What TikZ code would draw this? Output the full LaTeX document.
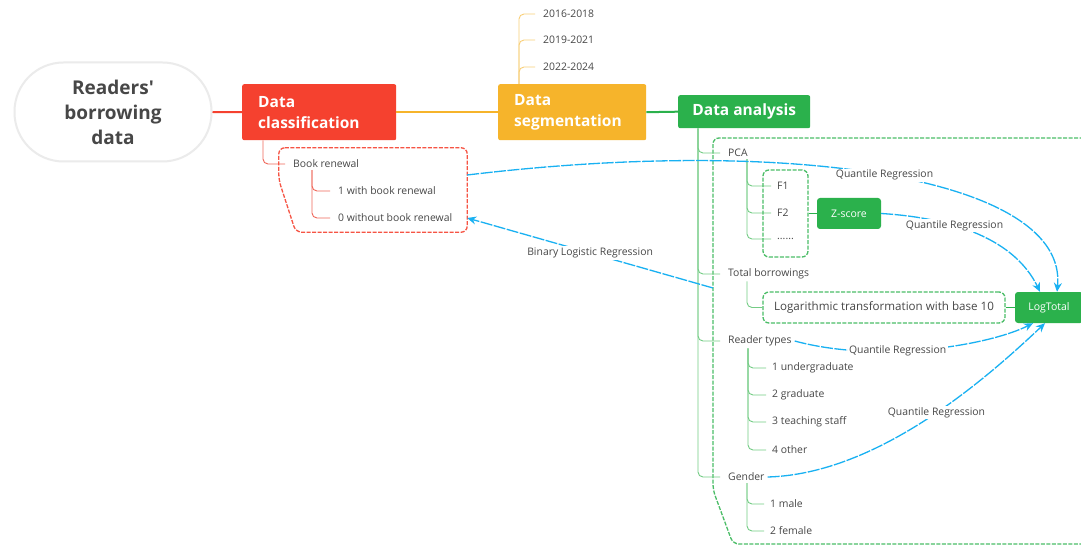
\documentclass[tikz,border=0pt]{standalone}
\usepackage{fontspec}
\setmainfont{Open Sans}[Ligatures=TeXOff]
\usetikzlibrary{arrows.meta}
\definecolor{cred}{HTML}{F5412F}
\definecolor{corange}{HTML}{F6B42B}
\definecolor{cgreen}{HTML}{2BB14C}
\definecolor{lgreen}{HTML}{74CC85}
\definecolor{lorange}{HTML}{F9CF78}
\definecolor{lred}{HTML}{F0675A}
\definecolor{cblue}{HTML}{19B1F2}
\definecolor{ctext}{HTML}{474747}
\tikzset{
  small/.style={anchor=west, inner sep=3pt, text=ctext, font=\fontsize{10.4}{12}\selectfont},
  mainbox/.style={rectangle, rounded corners=2pt, text=white, font=\bfseries\fontsize{15.5}{21}\selectfont, align=left, inner sep=0pt},
  gbox/.style={rectangle, rounded corners=3pt, fill=cgreen, text=white, inner sep=0pt, font=\fontsize{10.5}{12}\selectfont},
  gdash/.style={draw=cgreen!85, dashed, dash pattern=on 4pt off 1.5pt, line width=1.3pt, rounded corners=6pt},
  rdash/.style={draw=cred!90, dash pattern=on 4pt off 1.5pt, line width=1.3pt, rounded corners=6pt},
  gline/.style={draw=lgreen, line width=0.9pt, rounded corners=5pt},
  oline/.style={draw=lorange, line width=0.9pt, rounded corners=5pt},
  rline/.style={draw=lred, line width=0.9pt, rounded corners=5pt},
  bluecon/.style={draw=cblue, line width=1.3pt, dash pattern=on 12pt off 1.5pt, -{Stealth[length=9pt,width=8pt]}},
  bluelabel/.style={fill=white, inner sep=1.5pt, text=ctext, font=\fontsize{10.4}{12}\selectfont}
}
\begin{document}
\begin{tikzpicture}[x=1pt,y=-1pt]
\useasboundingbox (0,0) rectangle (1081,545);
\clip (0,0) rectangle (1081,545);
\fill[white] (0,0) rectangle (1081,545);

% root
\node[draw=black!8, line width=2pt, fill=white, rectangle, rounded corners=49pt, minimum width=197pt, minimum height=99pt,
  align=center, text=ctext, font=\bfseries\fontsize{19}{25}\selectfont] (root) at (113,112) {Readers'\\borrowing\\data};

% main boxes
\node[mainbox, fill=cred, anchor=north west, minimum width=154pt, minimum height=56pt, text width=122pt] (dc) at (242,84) {Data\\classification};
\node[mainbox, fill=corange, anchor=north west, minimum width=148pt, minimum height=56pt, text width=116pt] (ds) at (498,84) {Data\\segmentation};
\node[mainbox, fill=cgreen, anchor=north west, minimum width=132pt, minimum height=33pt, align=center] (da) at (678,95) {Data analysis};

\draw[cred, line width=2pt] (root.east) -- (dc.west);
\draw[corange, line width=2pt] (dc.east) -- (ds.west);
\draw[cgreen, line width=2pt] (ds.east) -- (da.west);

% years
\node[small] (y1) at (540,14) {2016-2018};
\node[small] (y2) at (540,40) {2019-2021};
\node[small] (y3) at (540,67) {2022-2024};
\foreach \n in {y1,y2,y3} \draw[oline] ([xshift=21pt]ds.north west) |- ([xshift=-5pt]\n.west);

% classification
\node[small] (br) at (290,164) {Book renewal};
\node[small] (b1) at (335,191) {1 with book renewal};
\node[small] (b0) at (335,218) {0 without book renewal};
\draw[rline] ([xshift=21pt]dc.south west) |- ([xshift=-5pt]br.west);
\foreach \n in {b1,b0} \draw[rline] ([xshift=22pt,yshift=1pt]br.south west) |- ([xshift=-5pt]\n.west);
\node[inner sep=0pt, minimum width=188pt, minimum height=84pt] (brg) at (373,190) {};
\draw[rdash] (brg.north west) -- (brg.north east) -- (brg.south east) -- ([xshift=17pt]brg.south west) -- ([yshift=10pt]brg.west) -- cycle;

% analysis container
\draw[gdash] (1100,138) -- (713,138) -- (713,490) -- (733,544) -- (1100,544);
\coordinate (gleft) at (713,288);

% analysis children
\node[small] (pca) at (725,153) {PCA};
\node[small] (tb) at (725,274) {Total borrowings};
\node[small] (rt) at (725,341) {Reader types};
\node[small] (ge) at (725,477) {Gender};
\foreach \n in {pca,tb,rt,ge} \draw[gline] ([xshift=20pt]da.south west) |- ([xshift=-5pt]\n.west);

% PCA
\node[small] (f1) at (774,186) {F1};
\node[small] (f2) at (774,213) {F2};
\node[small] (f3) at (774,239) {......};
\foreach \n in {f1,f2,f3} \draw[gline] ([xshift=22pt,yshift=1pt]pca.south west) |- ([xshift=-3pt]\n.west);
\node[gdash, minimum width=45pt, minimum height=87pt, inner sep=0pt] (fbox) at (785.5,213.5) {};
\node[gbox, minimum width=64pt, minimum height=31pt] (zs) at (849,213.5) {Z-score};
\draw[cgreen, line width=1.5pt] (fbox.east) -- (zs.west);

% total borrowings
\node[gdash, minimum width=242pt, minimum height=31pt, inner sep=0pt, text=ctext, font=\fontsize{11.6}{14}\selectfont] (lg) at (884,307.5) {Logarithmic transformation with base 10};
\draw[gline] ([xshift=22pt,yshift=1pt]tb.south west) |- (lg.west);
\node[gbox, minimum width=68pt, minimum height=31pt] (lt) at (1049,307.5) {LogTotal};
\draw[cgreen, line width=1.5pt] (lg.east) -- (lt.west);

% reader types
\node[small] (r1) at (769,368) {1 undergraduate};
\node[small] (r2) at (769,395) {2 graduate};
\node[small] (r3) at (769,422) {3 teaching staff};
\node[small] (r4) at (769,450) {4 other};
\foreach \n in {r1,r2,r3,r4} \draw[gline] ([xshift=23pt,yshift=1pt]rt.south west) |- ([xshift=-3pt]\n.west);

% gender
\node[small] (g1) at (767,504) {1 male};
\node[small] (g2) at (767,531) {2 female};
\foreach \n in {g1,g2} \draw[gline] ([xshift=22pt,yshift=1pt]ge.south west) |- ([xshift=-3pt]\n.west);

% blue connectors
\draw[bluecon] ([yshift=15pt]brg.east) .. controls (800,135) and (1068,180) .. ([xshift=8pt]lt.north) node[bluelabel, pos=0.49] {Quantile Regression};
\draw[bluecon] (zs.east) .. controls (955,218) and (1015,240) .. ([xshift=-9pt]lt.north) node[bluelabel, pos=0.36] {Quantile Regression};
\draw[bluecon] (gleft) -- ([yshift=-28pt]brg.east) node[bluelabel, pos=0.5] {Binary Logistic Regression};
\draw[bluecon] (rt.east) .. controls (880,364) and (990,345) .. ([xshift=-16pt]lt.south) node[bluelabel, pos=0.38] {Quantile Regression};
\draw[bluecon] (ge.east) .. controls (880,474) and (990,375) .. ([xshift=-4pt]lt.south) node[bluelabel, pos=0.53] {Quantile Regression};
\end{tikzpicture}
\end{document}
